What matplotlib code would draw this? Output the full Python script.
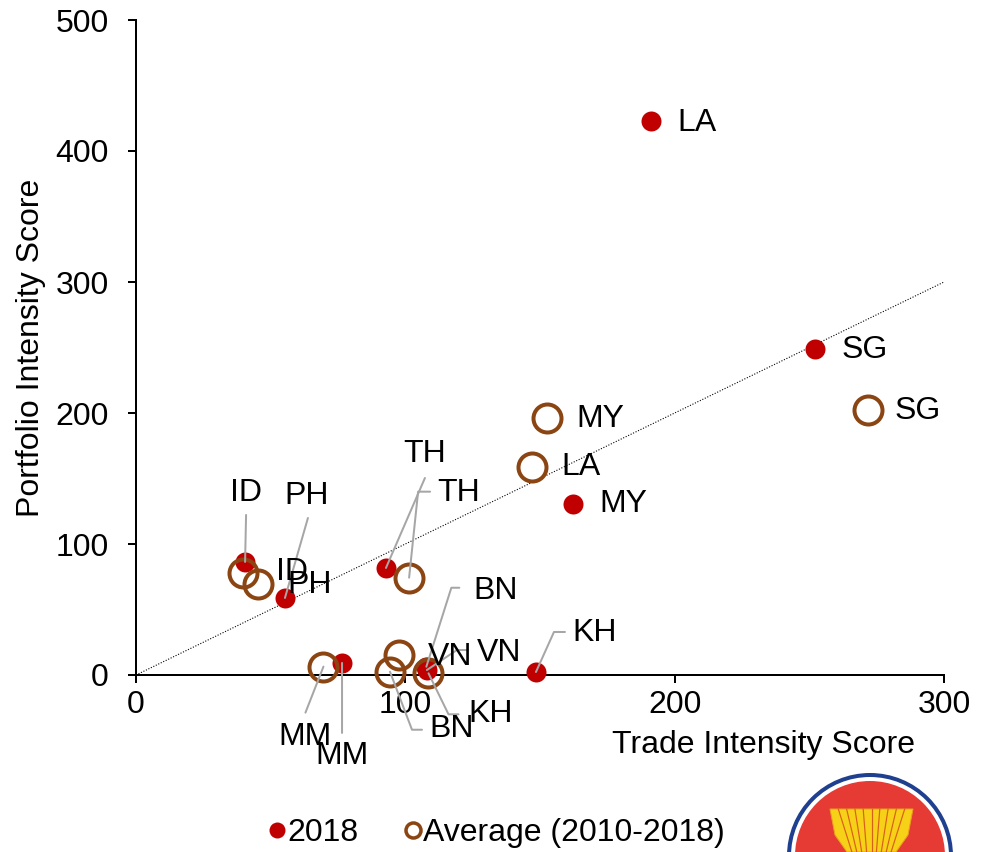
import matplotlib
matplotlib.use("Agg")
import matplotlib.pyplot as plt
from matplotlib.lines import Line2D
from matplotlib.patches import Circle, Polygon

plt.rcParams["font.family"] = ["Liberation Sans", "DejaVu Sans"]

# ASEAN member codes
countries = ["BN", "KH", "ID", "LA", "MY", "MM", "PH", "SG", "TH", "VN"]

# 2018 scores
trade_2018 = [107.8, 148.5, 40.5, 191.2, 162.3, 76.5, 55.3, 252.1, 92.8, 108.0]
portfolio_2018 = [6.3, 2.3, 86.3, 422.9, 130.5, 9.2, 58.8, 248.9, 81.7, 3.8]

# Average scores 2010-2018
trade_avg = [94.3, 108.6, 39.8, 147.0, 152.6, 69.6, 45.4, 271.8, 101.4, 97.8]
portfolio_avg = [2.5, 1.3, 77.6, 158.8, 196.2, 6.4, 69.5, 202.3, 74.3, 15.3]

x_ticks = [0, 100, 200, 300]
y_ticks = [0, 100, 200, 300, 400, 500]

RED = "#C00000"
BROWN = "#8B4513"
GREY = "#A6A6A6"
FS = 32

# label placement: text offset, leader start, elbow length (points)
lab_2018 = {
    "BN": ((69, 76), (33, 79), 8),
    "KH": ((59, 39), (29, 40), 11),
    "ID": ((1, 69), (1, 47), 0),
    "LA": ((46, -2), None, 0),
    "MY": ((50, 0), None, 0),
    "MM": ((0, -93), (0, -70), 0),
    "PH": ((22, 102), (23, 80), 0),
    "SG": ((50, -1), None, 0),
    "TH": ((39, 114), (39, 90), 0),
    "VN": ((72, 17), (41, 20), 11),
}
lab_avg = {
    "BN": ((62, -57), (32, -58), 10),
    "KH": ((62, -41), (30, -41), 10),
    "ID": ((49, 1), None, 0),
    "LA": ((49, 0), None, 0),
    "MY": ((53, -1), None, 0),
    "MM": ((-18, -70), (-18, -46), 0),
    "PH": ((51, -1), None, 0),
    "SG": ((50, -1), None, 0),
    "TH": ((50, 85), (21, 86), 12),
    "VN": ((51, -2), None, 0),
}

fig = plt.figure(figsize=(984 / 72, 852 / 72), dpi=72)

# emblem in the lower-right corner, drawn in pixel space
bg = fig.add_axes([0, 0, 1, 1], zorder=0)
bg.set_xlim(0, 984)
bg.set_ylim(852, 0)
bg.axis("off")
bg.add_patch(Circle((870, 856), 81, facecolor="white", edgecolor="#1F3F8F", lw=4))
bg.add_patch(Circle((870, 856), 75, facecolor="#E63A35", edgecolor="none"))
bg.add_patch(Polygon([(830, 809), (913, 809), (908, 835), (896, 852), (847, 852), (835, 835)],
                     closed=True, facecolor="#F7D117", edgecolor="#E8A020", lw=1))
for i in range(1, 10):
    xt = 830 + i * 83 / 10
    xb = 847 + i * 49 / 10
    bg.plot([xt, xb], [809, 852], color="#D9601A", lw=1.2)

ax = fig.add_axes([136 / 984, 1 - 675 / 852, 808 / 984, 655 / 852], zorder=1)
ax.patch.set_alpha(0)

ax.set_xlim(0, 300)
ax.set_ylim(0, 500)
ax.set_xticks(x_ticks)
ax.set_yticks(y_ticks)
for s in ["top", "right"]:
    ax.spines[s].set_visible(False)
for s in ["left", "bottom"]:
    ax.spines[s].set_linewidth(2)
ax.tick_params(axis="both", direction="out", length=8, width=2, labelsize=FS)
ax.tick_params(axis="y", pad=19)
ax.tick_params(axis="x", pad=7)

# 45-degree reference line
ax.plot([0, 300], [0, 300], color="black", lw=1.1, linestyle=(0, (1, 1.5)), zorder=2)

ax.plot(trade_2018, portfolio_2018, linestyle="none", marker="o", ms=20,
        mfc=RED, mec=RED, mew=0, zorder=4, clip_on=False)
ax.plot(trade_avg, portfolio_avg, linestyle="none", marker="o", ms=28,
        mfc="none", mec=BROWN, mew=4, zorder=5, clip_on=False)


def place_labels(xs, ys, layout):
    for c, x, y in zip(countries, xs, ys):
        toff, lstart, elbow = layout[c]
        ax.annotate(c, xy=(x, y), xytext=toff, textcoords="offset points",
                    ha="center", va="center", fontsize=FS, zorder=7,
                    annotation_clip=False)
        if lstart is not None:
            if elbow:
                cs = f"arc,angleA=180,armA={elbow},angleB=0,armB=0,rad=0"
            else:
                cs = "arc3"
            ax.annotate("", xy=(x, y), xytext=lstart, textcoords="offset points",
                        annotation_clip=False, zorder=6,
                        arrowprops=dict(arrowstyle="-", color=GREY, lw=2,
                                        shrinkA=0, shrinkB=0, connectionstyle=cs))


place_labels(trade_2018, portfolio_2018, lab_2018)
place_labels(trade_avg, portfolio_avg, lab_avg)

ax.set_xlabel("Trade Intensity Score", fontsize=FS, va="center")
ax.xaxis.set_label_coords((763 - 136) / 808, (675 - 745) / 655)
ax.set_ylabel("Portfolio Intensity Score", fontsize=FS, va="center")
ax.yaxis.set_label_coords((31 - 136) / 808, 0.5)

handles = [
    Line2D([], [], linestyle="none", marker="o", ms=16, mfc=RED, mec=RED, mew=0),
    Line2D([], [], linestyle="none", marker="o", ms=15, mfc="none", mec=BROWN, mew=3.5),
]
fig.legend(handles, ["2018", "Average (2010-2018)"], loc="center",
           bbox_to_anchor=(498 / 984, 1 - 833 / 852), ncol=2, frameon=False,
           fontsize=FS, handlelength=0.4, handletextpad=0.12, columnspacing=1.5,
           borderpad=0, borderaxespad=0)

fig.savefig("out.png", dpi=72)
